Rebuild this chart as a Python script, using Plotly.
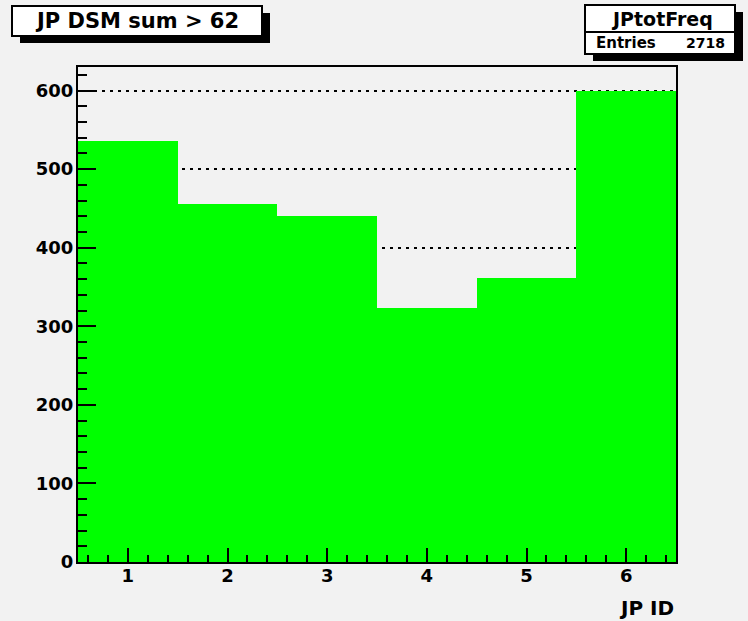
import plotly.graph_objects as go

# ---- data ----
jp_id = [1, 2, 3, 4, 5, 6]
counts = [536, 456, 441, 323, 362, 600]
title_text = "JP DSM sum > 62"
hist_name = "JPtotFreq"
entries_label = "Entries"
entries_value = "2718"
x_title = "JP ID"
y_ticks = [0, 100, 200, 300, 400, 500, 600]
x_ticks = [1, 2, 3, 4, 5, 6]

W, H = 748, 621
L, R, T, B = 78, 676, 67, 562
BG = "#f2f2f2"
FONT = "DejaVu Sans"


def px(x):
    return (x - L) / (R - L)


def py(y):
    return (B - y) / (B - T)


fig = go.Figure()
fig.add_trace(go.Bar(x=jp_id, y=counts, width=1, marker=dict(color="#00ff00", line=dict(width=0)),
                     hoverinfo="x+y"))

shapes = []
annotations = []


def box(x0, y0, x1, y1, sh=8):
    shapes.append(dict(type="rect", xref="paper", yref="paper", x0=px(x0 + sh), x1=px(x1 + sh),
                       y0=py(y1 + sh - 1), y1=py(y0 + sh - 1), fillcolor="black", line=dict(width=0), layer="above"))
    shapes.append(dict(type="rect", xref="paper", yref="paper", x0=px(x0), x1=px(x1),
                       y0=py(y1), y1=py(y0), fillcolor="white", line=dict(color="black", width=2), layer="above"))


box(12, 6, 262, 36)
annotations.append(dict(text=title_text, xref="paper", yref="paper", x=px(137), y=py(21), xanchor="center",
                        yanchor="middle", showarrow=False,
                        font=dict(family=FONT, size=21, color="black", weight="bold")))

box(585, 5, 735, 54)
shapes.append(dict(type="line", xref="paper", yref="paper", x0=px(585), x1=px(735), y0=py(32), y1=py(32),
                   line=dict(color="black", width=2), layer="above"))
annotations.append(dict(text=hist_name, xref="paper", yref="paper", x=px(662), y=py(19), xanchor="center",
                        yanchor="middle", showarrow=False,
                        font=dict(family=FONT, size=19, color="black", weight="bold")))
annotations.append(dict(text=entries_label, xref="paper", yref="paper", x=px(594), y=py(43), xanchor="left",
                        yanchor="middle", showarrow=False,
                        font=dict(family=FONT, size=15, color="black", weight="bold")))
annotations.append(dict(text=entries_value, xref="paper", yref="paper", x=px(727), y=py(43), xanchor="right",
                        yanchor="middle", showarrow=False,
                        font=dict(family=FONT, size=14, color="black", weight="bold")))
annotations.append(dict(text=x_title, xref="paper", yref="paper", x=1, y=py(608), xanchor="right",
                        yanchor="middle", showarrow=False,
                        font=dict(family=FONT, size=20, color="black", weight="bold")))

tickfont = dict(family=FONT, size=18, color="black", weight="bold")

fig.update_layout(
    width=W, height=H,
    margin=dict(l=L, r=W - R, t=T, b=H - B, pad=0),
    paper_bgcolor=BG, plot_bgcolor=BG,
    bargap=0, showlegend=False,
    shapes=shapes, annotations=annotations,
    xaxis=dict(range=[0.5, 6.5], tickvals=x_ticks, ticks="inside", ticklen=14, tickwidth=2,
               tickcolor="black", showgrid=False, zeroline=False, showline=True, linecolor="black",
               linewidth=2, mirror=True, tickfont=tickfont, ticklabelstandoff=-4,
               minor=dict(dtick=0.2, tick0=0.6, ticks="inside", ticklen=7, tickwidth=2,
                          tickcolor="black", showgrid=False)),
    yaxis=dict(range=[0, 630], tickvals=y_ticks, ticks="inside", ticklen=18, tickwidth=2,
               tickcolor="black", showgrid=True, gridcolor="black", gridwidth=2, griddash="3px,5px",
               zeroline=False, showline=True, linecolor="black", linewidth=2, mirror=True,
               tickfont=tickfont, ticklabelstandoff=-1,
               minor=dict(dtick=20, tick0=0, ticks="inside", ticklen=9, tickwidth=2,
                          tickcolor="black", showgrid=False)),
)

fig.write_html("out.html", config={"displayModeBar": False},
               post_script="document.body.style.margin='0';document.body.style.padding='0';")
